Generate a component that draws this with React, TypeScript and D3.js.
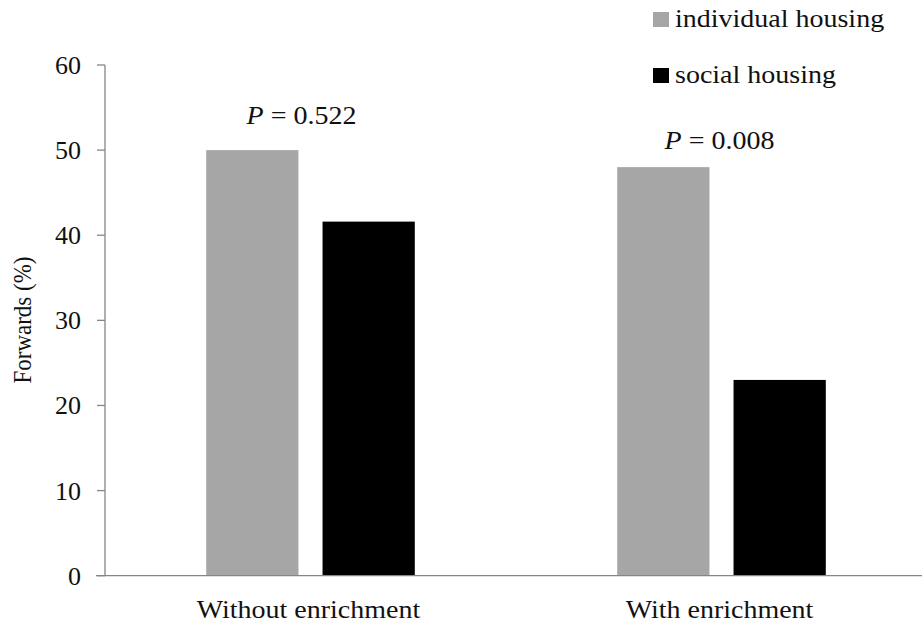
import React, { useEffect, useRef } from "react";
import * as d3 from "d3";

const categories = ["Without enrichment", "With enrichment"];
const seriesNames = ["individual housing", "social housing"];
const individualHousing = [50, 48];
const socialHousing = [41.6, 23];
const pLabels = ["0.522", "0.008"];
const yTicks = [0, 10, 20, 30, 40, 50, 60];

const colors = ["#a6a6a6", "#000000"];
const FONT = "'Liberation Serif', 'Times New Roman', serif";
const STRETCH = 1.12;

export default function App() {
  const ref = useRef<SVGSVGElement | null>(null);

  useEffect(() => {
    const svg = d3.select(ref.current);
    svg.selectAll("*").remove();

    const left = 105;
    const bottom = 575.7;
    const top = 65;

    const y = d3.scaleLinear().domain([0, 60]).range([bottom, top]);
    const x0 = d3.scaleBand<string>().domain(categories).range([left, 927]);
    const x1 = d3
      .scaleBand<string>()
      .domain(seriesNames)
      .range([0, x0.bandwidth()])
      .paddingInner(0.207)
      .paddingOuter(0.87);

    // stretched text helper (the source picture is a bit wide)
    const label = (x: number, yy: number, txt: string, size: number, anchor = "middle", sx = STRETCH) => {
      const g = svg.append("g").attr("transform", `translate(${x},${yy}) scale(${sx},1)`);
      return g
        .append("text")
        .attr("text-anchor", anchor)
        .attr("font-family", FONT)
        .attr("font-size", size)
        .attr("fill", "#111")
        .text(txt);
    };

    const rows = categories.map((c, i) => ({
      cat: c,
      values: [individualHousing[i], socialHousing[i]],
    }));

    // bars
    const groups = svg
      .selectAll(".grp")
      .data(rows)
      .enter()
      .append("g")
      .attr("class", "grp")
      .attr("transform", (d) => `translate(${x0(d.cat)},0)`);

    groups
      .selectAll("rect")
      .data((d) => d.values.map((v, k) => ({ v, k })))
      .enter()
      .append("rect")
      .attr("x", (d) => x1(seriesNames[d.k]) as number)
      .attr("width", x1.bandwidth())
      .attr("y", (d) => y(d.v))
      .attr("height", (d) => bottom - y(d.v))
      .attr("fill", (d) => colors[d.k]);

    // axes
    const axisColor = "#868686";
    svg.append("line")
      .attr("x1", left).attr("x2", left)
      .attr("y1", top).attr("y2", bottom)
      .attr("stroke", axisColor).attr("stroke-width", 1.3);
    svg.append("line")
      .attr("x1", 96).attr("x2", 922)
      .attr("y1", bottom).attr("y2", bottom)
      .attr("stroke", axisColor).attr("stroke-width", 1.3);

    yTicks.forEach((t) => {
      svg.append("line")
        .attr("x1", 97).attr("x2", left)
        .attr("y1", y(t)).attr("y2", y(t))
        .attr("stroke", axisColor).attr("stroke-width", 1.3);
      label(81, y(t) + 9, String(t), 26, "end", 1.0);
    });

    const yt = svg
      .append("g")
      .attr("transform", `translate(31,320) scale(${STRETCH},1) rotate(-90)`);
    yt.append("text")
      .attr("text-anchor", "middle")
      .attr("font-family", FONT)
      .attr("font-size", 23)
      .attr("fill", "#111")
      .text("Forwards (%)");

    // category labels
    categories.forEach((c) => {
      label((x0(c) as number) + x0.bandwidth() / 2 - 2, 618, c, 25);
    });

    // p-value annotations (placed by hand in the source, so small nudges)
    const pNudge = [
      { dx: -9, dy: 26 },
      { dx: -2, dy: 18 },
    ];
    rows.forEach((r, i) => {
      const t = label(
        (x0(r.cat) as number) + x0.bandwidth() / 2 + pNudge[i].dx,
        y(Math.max(...r.values)) - pNudge[i].dy,
        "",
        25
      );
      t.append("tspan").attr("font-style", "italic").text("P");
      t.append("tspan").text(` = ${pLabels[i]}`);
    });

    // legend
    seriesNames.forEach((s, k) => {
      const ly = 12 + k * 56;
      svg.append("rect")
        .attr("x", 653).attr("y", ly)
        .attr("width", 16).attr("height", 15)
        .attr("fill", colors[k]);
      label(675, ly + 15, s, 25, "start");
    });
  }, []);

  return (
    <div style={{ position: "absolute", left: 0, top: 0, background: "#fff" }}>
      <svg ref={ref} width={924} height={626} style={{ display: "block" }} />
    </div>
  );
}
